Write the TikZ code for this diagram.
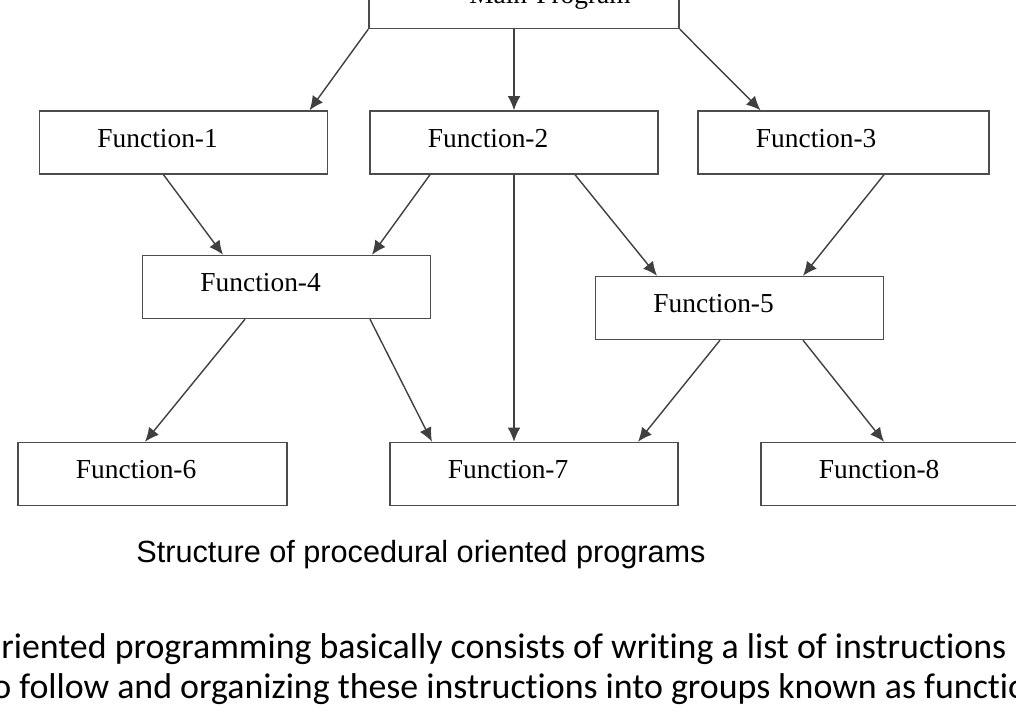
\documentclass[tikz,border=0pt]{standalone}
\usepackage{fontspec}
\usetikzlibrary{arrows.meta,calc}
\newfontfamily\funcfont{Liberation Serif}
\newfontfamily\capfont{Liberation Sans}
\newfontfamily\bodyfont[Ligatures=NoCommon]{Carlito}
\tikzset{
    fbox/.style={draw=black!70, line width=1pt, minimum height=1.575cm,
        text width=4.3cm, inner xsep=1.45cm, align=left,
        text height=14pt, text depth=7pt,
        font=\funcfont\fontsize{19.5}{23}\selectfont},
    flow/.style={draw=black!75, line width=1pt, -{Latex[length=10pt,width=9pt]}},
    bodyline/.style={anchor=base west, inner sep=0pt, font=\bodyfont\fontsize{25.5}{30}\selectfont}
}
\begin{document}
\begin{tikzpicture}[x=0.025cm, y=-0.025cm]
    \useasboundingbox (0,0) rectangle (1016,720);
    \clip (0,0) rectangle (1016,720);
    % 主程序
    \node[fbox, text width=7.75cm, inner xsep=0pt, align=center,
        text height=13.3pt, text depth=4.2pt] (main) at (524,-3)
        {\hspace*{1.3cm}Main Program};
    % 第一层
    \node[fbox] (f1) at (183.5,142.5) {Function-1};
    \node[fbox] (f2) at (514,142.5) {Function-2};
    \node[fbox, text width=4.375cm] (f3) at (843.5,142.5) {Function-3};
    % 第二层
    \node[fbox] (f4) at (286.5,287) {Function-4};
    \node[fbox] (f5) at (739.5,308) {Function-5};
    % 第三层
    \node[fbox, text width=3.825cm] (f6) at (152.5,474) {Function-6};
    \node[fbox] (f7) at (534,474) {Function-7};
    \node[fbox] (f8) at (905,474) {Function-8};

    % 连线
    \draw[flow] (main.south west) -- ($(f1.north)+(126,0)$);
    \draw[flow] (f2.north |- main.south) -- (f2.north);
    \draw[flow] (main.south east) -- ($(f3.north)+(-83,0)$);
    \draw[flow] ($(f1.south)+(-20,0)$) -- ($(f4.north)+(-63.5,0)$);
    \draw[flow] ($(f2.south)+(-84,0)$) -- ($(f4.north)+(85.5,0)$);
    \draw[flow] (f2.south) -- ($(f7.north)+(-20,0)$);
    \draw[flow] ($(f2.south)+(61,0)$) -- ($(f5.north)+(-82.5,0)$);
    \draw[flow] ($(f3.south)+(40.5,0)$) -- ($(f5.north)+(63.5,0)$);
    \draw[flow] ($(f4.south)+(-41.5,0)$) -- ($(f6.north)+(-7.5,0)$);
    \draw[flow] ($(f4.south)+(83.5,0)$) -- ($(f7.north)+(-102,0)$);
    \draw[flow] ($(f5.south)+(-19.5,0)$) -- ($(f7.north)+(104,0)$);
    \draw[flow] ($(f5.south)+(63.5,0)$) -- ($(f8.north)+(-21,0)$);

    % 图题与正文
    \node[anchor=base, inner sep=0pt, font=\capfont\fontsize{21.8}{26}\selectfont] (cap) at (421,562)
        {Structure of procedural oriented programs};
    \node[bodyline] (line1) at (1,658)
        {riented programming basically consists of writing a list of instructions};
    \node[bodyline] (line2) at (-8,698)
        {o follow and organizing these instructions into groups known as functions};
\end{tikzpicture}
\end{document}
